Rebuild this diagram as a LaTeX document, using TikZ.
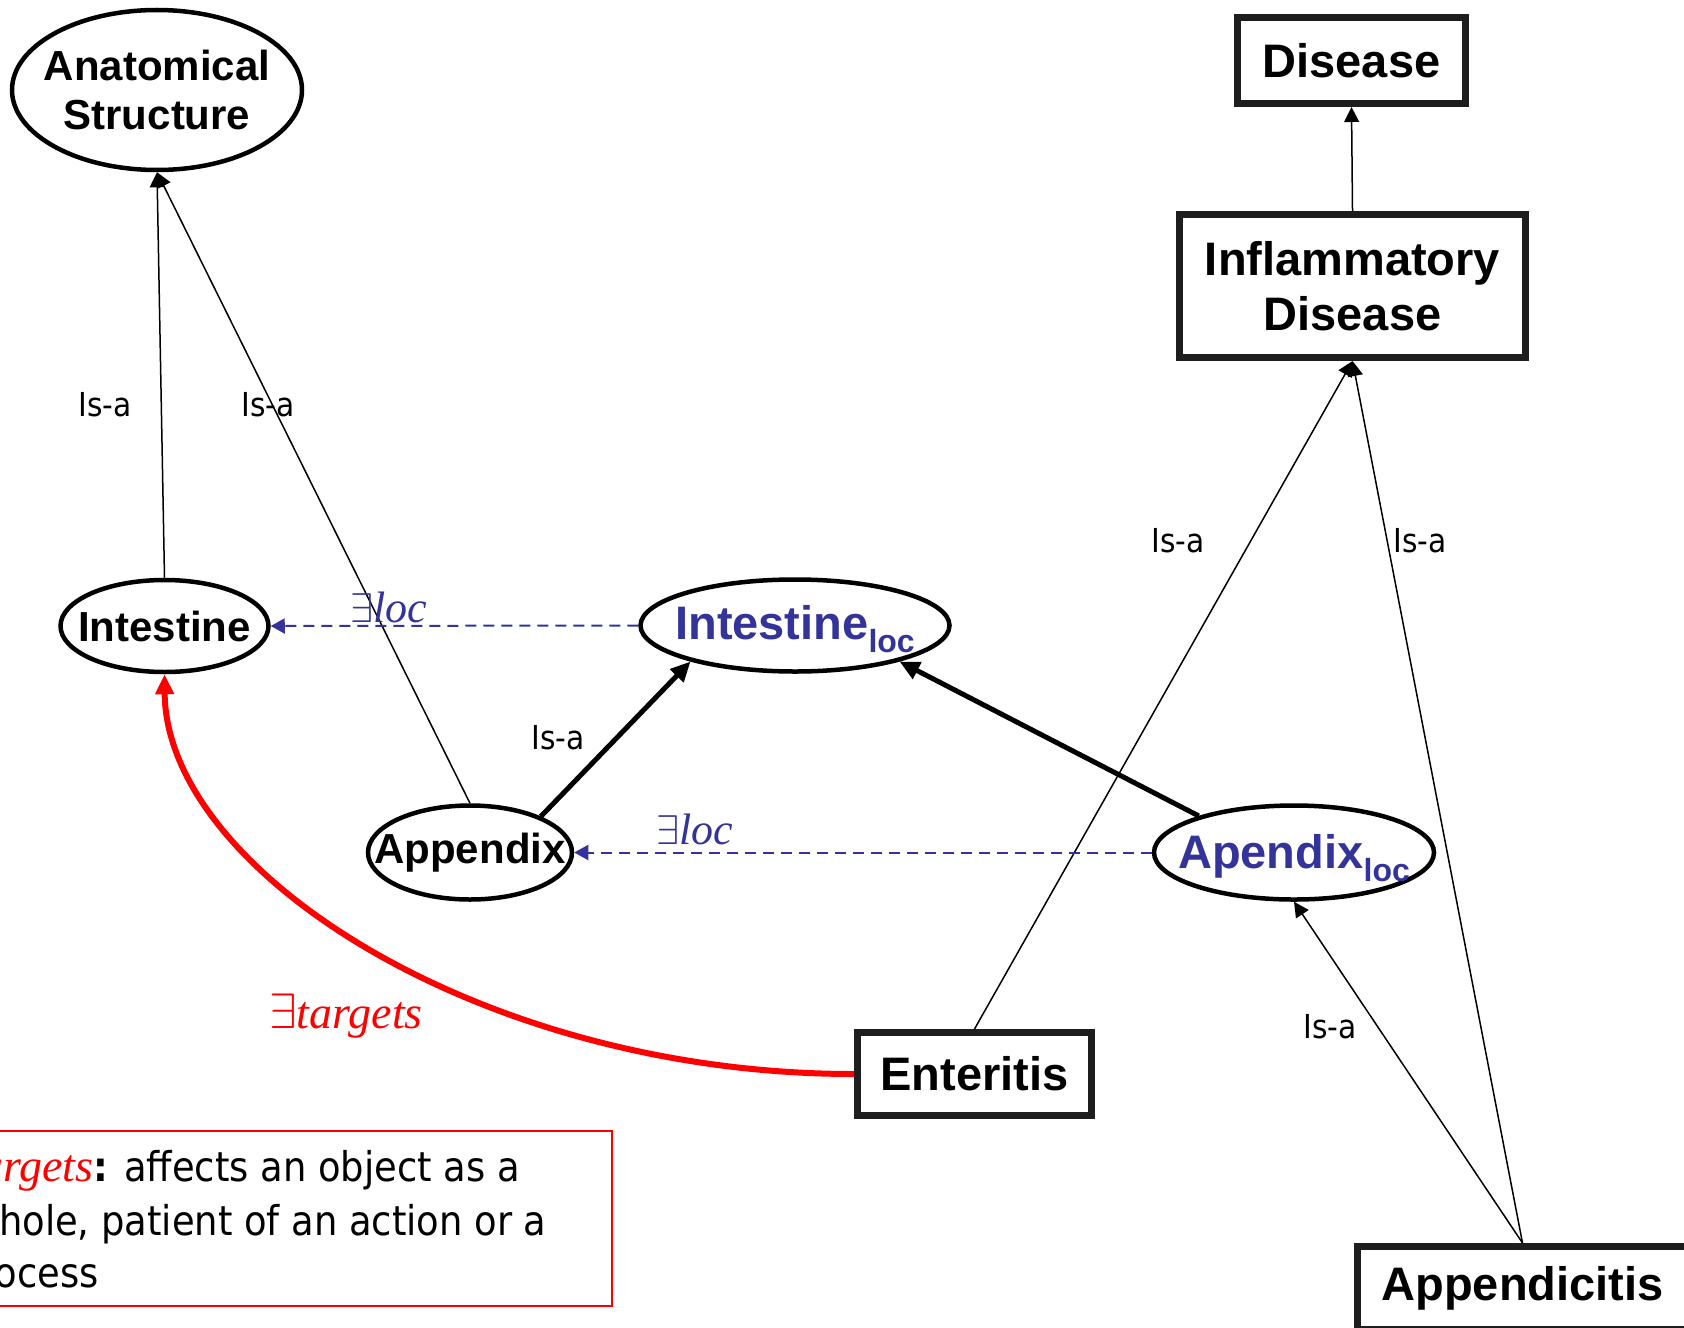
\documentclass[tikz,border=0pt]{standalone}
\usepackage{fontspec}
\usetikzlibrary{shapes.geometric,arrows.meta}
\newfontfamily\headsans{Liberation Sans}
\newfontfamily\labelsans{DejaVu Sans Condensed}
\newfontfamily\relserif{Liberation Serif}
\definecolor{locblue}{HTML}{333399}
\definecolor{frameblack}{HTML}{1E1E1E}

\tikzset{
  ell/.style={ellipse, draw, line width=2.25pt, inner sep=0pt},
  elltext/.style={align=center, inner sep=0pt,
    font=\headsans\bfseries\fontsize{21}{24.5}\selectfont},
  loctext/.style={elltext, text=locblue, font=\headsans\bfseries\fontsize{23.5}{26}\selectfont},
  boxnode/.style={rectangle, draw=frameblack, line width=3.5pt, inner sep=0pt, align=center,
    font=\headsans\bfseries\fontsize{23.5}{27.5}\selectfont},
  isa/.style={-{Triangle[length=7.5pt,width=7.5pt]}, line width=0.75pt},
  thickisa/.style={-{Triangle[length=10pt,width=9pt]}, line width=2.5pt},
  locarrow/.style={-{Triangle[length=7pt,width=7.5pt]}, locblue, line width=1pt,
    dash pattern=on 5.5pt off 3.5pt},
  targetarrow/.style={-{Triangle[length=10pt,width=9pt]}, red, line width=3pt},
  isalabel/.style={font=\labelsans\fontsize{16.5}{18}\selectfont},
  loclabel/.style={text=locblue, font=\relserif\itshape\fontsize{22}{24}\selectfont},
  targetlabel/.style={text=red, font=\relserif\itshape\fontsize{23}{25}\selectfont},
  legendtext/.style={font=\labelsans\fontsize{20.5}{24}\selectfont, anchor=base east, inner sep=0pt},
}
\newcommand{\locsub}[1]{#1\raisebox{-6.5pt}{\fontsize{16}{16}\selectfont loc}}

\begin{document}
\begin{tikzpicture}[x=0.5pt, y=-0.5pt]
\useasboundingbox (0,0) rectangle (1684,1327);
\clip (0,0) rectangle (1684,1327);

% anatomy side: outlines, then their names
\node[ell, minimum width=145pt, minimum height=80pt] (anat) at (157,90) {};
\node[ell, minimum width=104pt, minimum height=46pt] (intestine) at (164.5,626) {};
\node[ell, minimum width=102pt, minimum height=47pt] (appendix) at (470,852.5) {};
\node[ell, minimum width=154.5pt, minimum height=46pt] (intloc) at (795,625.5) {};
\node[ell, minimum width=140pt, minimum height=47pt] (apploc) at (1294,852.5) {};
\node[elltext] (anatname) at (anat) {Anatomical\\Structure};
\node[elltext] (intestinename) at (intestine) {Intestine};
\node[elltext] (appendixname) at (appendix) {Appendix};
\node[loctext] (intlocname) at (795,629) {\locsub{Intestine}};
\node[loctext] (apploclname) at (1294,858) {\locsub{Apendix}};

% disease side
\node[boxnode, minimum width=114pt, minimum height=43pt] (disease) at (1351.5,60.5) {Disease};
\node[boxnode, minimum width=173pt, minimum height=71.5pt] (inflam) at (1352.5,286) {Inflammatory\\Disease};
\node[boxnode, minimum width=117pt, minimum height=41.5pt] (enteritis) at (974.5,1074) {Enteritis};
\node[boxnode, minimum width=165pt, minimum height=41.5pt] (appendicitis) at (1522.5,1288) {Appendicitis};

% is-a links
\draw[isa] (intestine.north) -- (anat.south);
\draw[isa] (appendix.north) -- (anat.south);
\draw[thickisa] (appendix.27) -- (intloc.199);
\draw[thickisa] (apploc.159) -- (intloc.341);
\draw[isa] (inflam.north) -- (disease.south);
\draw[isa] (enteritis.north) -- (inflam.south);
\draw[isa] (appendicitis.north) -- (inflam.south);
\draw[isa] (appendicitis.north) -- (apploc.south);

% location links
\draw[locarrow] (intloc.west) -- (intestine.east);
\draw[locarrow] (apploc.west) -- (appendix.east);

% targets link
\draw[targetarrow] (enteritis.west) .. controls (480,1074) and (166,870) .. (intestine.south);

% labels
\node[isalabel] (l1) at (105,405) {Is-a};
\node[isalabel] (l2) at (268,405) {Is-a};
\node[isalabel] (l3) at (558,738) {Is-a};
\node[isalabel] (l4) at (1178,541) {Is-a};
\node[isalabel] (l5) at (1420,541) {Is-a};
\node[isalabel] (l6) at (1330,1027) {Is-a};
\node[loclabel] (e1) at (389,607) {$\exists$loc};
\node[loclabel] (e2) at (695,829) {$\exists$loc};
\node[targetlabel] (e3) at (346,1016) {$\exists$targets};

% legend
\node[draw=red, line width=0.75pt, minimum width=356pt, minimum height=87.5pt, inner sep=0pt] (legend) at (256,1218.5) {};
\node[legendtext] (lg1) at (520,1181) {{\color{red}\relserif\itshape\fontsize{23}{25}\selectfont$\exists$targets}\textbf{:} affects an object as a};
\node[legendtext] (lg2) at (547,1235) {whole, patient of an action or a};
\node[legendtext] (lg3) at (99,1287) {process};
\end{tikzpicture}
\end{document}
